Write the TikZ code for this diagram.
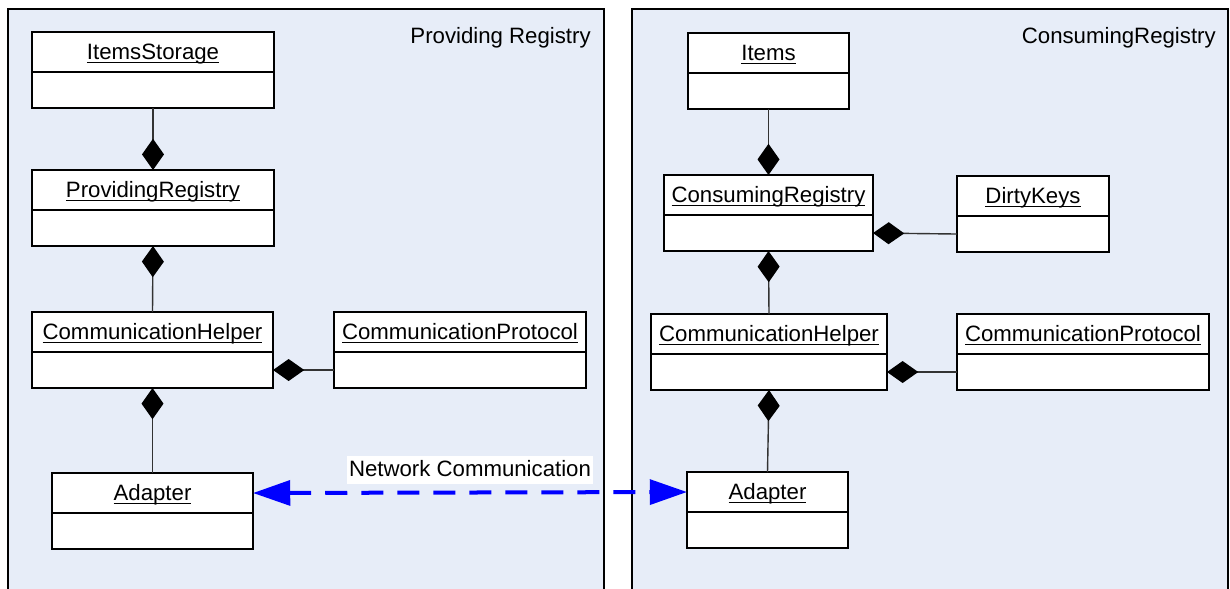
\documentclass[tikz,border=0pt]{standalone}
\usepackage{fontspec}
\setmainfont{Liberation Sans}
\usetikzlibrary{arrows.meta,positioning}
\definecolor{panelblue}{RGB}{231,237,248}
\definecolor{netblue}{RGB}{0,0,255}
\newcommand{\umlname}[1]{\setbox0\hbox{#1}\rlap{\vrule height -0.09em depth 0.16em width \wd0}\box0}

\begin{document}
\begin{tikzpicture}[x=0.025cm,y=-0.025cm,font=\fontsize{15.8}{19}\selectfont,
  panel/.style={fill=panelblue,draw=black,line width=0.05cm},
  head/.style={draw,fill=white,line width=0.05cm,inner sep=0pt,outer sep=0pt,
    minimum height=1cm,text height=0.4cm,text depth=0.025cm,anchor=north},
  body/.style={draw,fill=white,line width=0.05cm,inner sep=0pt,outer sep=0pt,
    minimum height=0.9cm,below=0pt of #1},
  owns/.style={draw=black!80,line width=0.035cm,
    -{Diamond[length=0.78cm,width=0.55cm,color=black]}},
  network/.style={draw=netblue,line width=0.1cm,dash pattern=on 0.55cm off 0.35cm,
    {Triangle[length=0.93cm,width=0.62cm]}-{Triangle[length=0.93cm,width=0.62cm]}}]
\useasboundingbox (0,0) rectangle (1230,588);
\path[panel](8,592)|-(604,9)--(604,592);
\path[panel](632,592)|-(1228,9)--(1228,592);
\node[anchor=base east,inner sep=0pt](provtitle) at (591,43){Providing Registry};
\node[anchor=base east,inner sep=0pt](constitle) at (1216,43){ConsumingRegistry};

\node[head,minimum width=6.05cm](storage) at (153,32){\umlname{ItemsStorage}};
\node[body=storage,minimum width=6.05cm](storageb){};
\node[head,minimum width=6.05cm](provreg) at (153,170){\umlname{ProvidingRegistry}};
\node[body=provreg,minimum width=6.05cm](provregb){};
\node[head,minimum width=6.025cm](lhelper) at (152.5,312){\umlname{CommunicationHelper}};
\node[body=lhelper,minimum width=6.025cm](lhelperb){};
\node[head,minimum width=6.3cm](lproto) at (460,312){\umlname{CommunicationProtocol}};
\node[body=lproto,minimum width=6.3cm](lprotob){};
\node[head,minimum width=5.025cm](ladapter) at (152.5,473){\umlname{Adapter}};
\node[body=ladapter,minimum width=5.025cm](ladapterb){};

\node[head,minimum width=4.025cm](items) at (768.5,33){\umlname{Items}};
\node[body=items,minimum width=4.025cm](itemsb){};
\node[head,minimum width=5.225cm](consreg) at (768.5,175){\umlname{ConsumingRegistry}};
\node[body=consreg,minimum width=5.225cm](consregb){};
\node[head,minimum width=3.8cm](dirty) at (1033,176){\umlname{DirtyKeys}};
\node[body=dirty,minimum width=3.8cm](dirtyb){};
\node[head,minimum width=5.9cm](rhelper) at (769,314){\umlname{CommunicationHelper}};
\node[body=rhelper,minimum width=5.9cm](rhelperb){};
\node[head,minimum width=6.3cm](rproto) at (1083,314){\umlname{CommunicationProtocol}};
\node[body=rproto,minimum width=6.3cm](rprotob){};
\node[head,minimum width=4.025cm](radapter) at (767.5,472){\umlname{Adapter}};
\node[body=radapter,minimum width=4.025cm](radapterb){};

\draw[owns](storageb.south)--(provreg.north);
\draw[owns](lhelper.north)--(provregb.south);
\draw[owns](ladapter.north)--(lhelperb.south);
\draw[owns](lprotob.west)--(lhelperb.east);
\draw[owns](itemsb.south)--(consreg.north);
\draw[owns](rhelper.north)--(consregb.south);
\draw[owns](radapter.north)--(rhelperb.south);
\draw[owns](dirtyb.west)--(consregb.east);
\draw[owns](rprotob.west)--(rhelperb.east);

\draw[network](ladapter.east)--node[midway,above=0.175cm,fill=white,inner xsep=0.05cm,
  inner ysep=0.1cm,text depth=0.075cm](netlabel){Network Communication}(radapter.west);
\end{tikzpicture}
\end{document}
